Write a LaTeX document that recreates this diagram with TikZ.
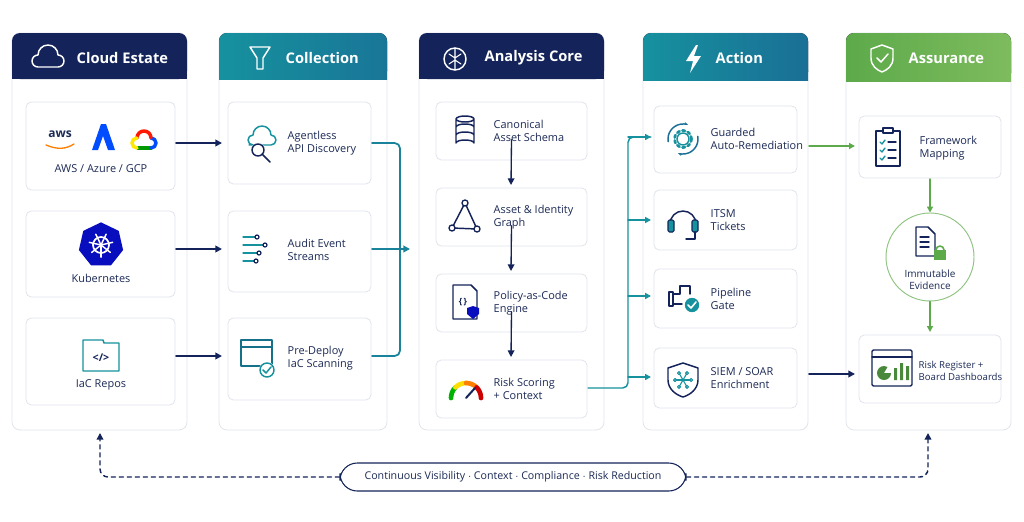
\documentclass[tikz,border=0pt]{standalone}
\usepackage{fontspec}
\setmainfont{Open Sans}
\usetikzlibrary{arrows.meta, positioning, calc, shapes.geometric}
\definecolor{navy}{HTML}{14245A}
\definecolor{teal}{HTML}{16919E}
\definecolor{tealb}{HTML}{1A6F96}
\definecolor{grn}{HTML}{5DAA4A}
\definecolor{grnl}{HTML}{7DBB5E}
\definecolor{edge}{HTML}{E1E5EC}
\definecolor{txt}{HTML}{1C2A55}
\begin{document}
\begin{tikzpicture}[x=0.75pt, y=-0.75pt, line cap=round, line join=round,
    panel/.style={draw=edge, fill=white, rounded corners=6pt, line width=0.6pt},
    card/.style={draw=edge, fill=white, rounded corners=4pt, line width=0.6pt},
    head/.style={font=\bfseries\fontsize{11}{12}\selectfont, text=white, anchor=west},
    lbl/.style={font=\fontsize{8.2}{10}\selectfont, text=txt, align=left, anchor=west},
    clbl/.style={font=\fontsize{8.2}{10}\selectfont, text=txt, align=center},
    arr/.style={-{Triangle[length=5pt,width=5pt]}, line width=1.3pt, navy},
    tarr/.style={-{Triangle[length=4.5pt,width=4.5pt]}, line width=1.1pt, teal},
    garr/.style={-{Triangle[length=4.5pt,width=4.5pt]}, line width=1.1pt, grn},
    ico/.style={line width=1.1pt}]

	% canvas
	\useasboundingbox[fill=white] (0,0) rectangle (1024,521);

	% panels
	\draw[panel] (12,33) rectangle (187,430);
	\draw[panel] (219,33) rectangle (387,430);
	\draw[panel] (419,33) rectangle (604,430);
	\draw[panel] (643,33) rectangle (808,430);
	\draw[panel] (846,33) rectangle (1011,430);

	% panel headers
	\fill[navy, rounded corners=6pt] (12,79) |- (187,33) -- (187,79) -- cycle;
	\fill[left color=teal, right color=tealb!80!teal, rounded corners=6pt] (219,79) |- (387,33) -- (387,79) -- cycle;
	\fill[navy, rounded corners=6pt] (419,79) |- (604,33) -- (604,79) -- cycle;
	\fill[left color=teal, right color=tealb, rounded corners=6pt] (643,80) |- (808,33) -- (808,80) -- cycle;
	\fill[left color=grn, right color=grnl, rounded corners=6pt] (846,81) |- (1011,33) -- (1011,81) -- cycle;
	\fill[navy] (12,70) rectangle (187,79);
	\fill[left color=teal, right color=tealb!80!teal] (219,70) rectangle (387,79);
	\fill[navy] (419,70) rectangle (604,79);
	\fill[left color=teal, right color=tealb] (643,70) rectangle (808,80);
	\fill[left color=grn, right color=grnl] (846,70) rectangle (1011,81);

	\node[head] at (72,58) {Cloud Estate};
	\node[head] at (281,58) {Collection};
	\node[head] at (480,58) {Analysis Core};
	\node[head] at (711,58) {Action};
	\node[head] at (904,58) {Assurance};

	% header icons
	\draw[white, ico] (37,67) -- (58,67) arc (90:-90:6) arc (0:-180:10) arc (-90:-270:6) -- cycle;
	\draw[white, ico] (250,47) -- (270,47) -- (263,58) -- (263,69) -- (257,69) -- (257,58) -- cycle;
	\draw[white, ico] (455,59) circle (11); \draw[white, line width=0.8pt] (455,48) -- (455,70) (449,54) -- (455,58) -- (461,54) (449,64) -- (455,60) -- (461,64);
	\fill[white] (696,45) -- (686,61) -- (693,61) -- (690,73) -- (701,56) -- (694,56) -- (698,45) -- cycle;
	\draw[white, ico] (882,45) -- (893,49) -- (893,58) .. controls (893,66) and (887,70) .. (882,72) .. controls (877,70) and (871,66) .. (871,58) -- (871,49) -- cycle;
	\draw[white, ico] (877,58) -- (881,62) -- (888,54);

	% cloud estate cards
	\draw[card] (26,102) rectangle (175,190) node[midway] (aws) {};
	\draw[card] (26,211) rectangle (175,297) node[midway] (k8s) {};
	\draw[card] (26,318) rectangle (175,405) node[midway] (iac) {};
	\node[font=\bfseries\fontsize{9}{9}\selectfont, text=txt] at (60,134) {aws};
	\draw[orange, line width=1pt] (46,145) .. controls (58,150) and (66,149) .. (74,144);
	\fill[blue!70!cyan] (92,150) -- (101,124) -- (106,124) -- (115,150) -- (108,150) -- (103,136) -- (98,150) -- cycle;
	\draw[green!60!black, line width=2.6pt] (138,148) -- (151,148);
	\draw[blue!70!cyan, line width=2.6pt] (151,148) arc (90:-90:5);
	\draw[red!80!orange, line width=2.6pt] (151,138) arc (0:-180:7);
	\draw[yellow!90!orange, line width=2.6pt] (137,138) arc (-90:-270:5);
	\node[clbl] at (101,169) {AWS / Azure / GCP};
	\node[regular polygon, regular polygon sides=7, fill=blue!60!navy, minimum size=34pt, inner sep=0] at (101,245) {};
	\draw[white, line width=1.3pt] (101,245) circle (8);
	\foreach \a in {0,51.4,...,360} \draw[white, line width=1.1pt] (101,245) -- ++(\a+90:12);
	\node[clbl] at (101,278) {Kubernetes};
	\draw[teal, ico] (83,355) |- (103,340) -- (104,343) -- (119,343) -- (119,371) -- (83,371) -- cycle;
	\node[font=\bfseries\fontsize{8}{8}\selectfont, text=navy] at (101,358) {</>};
	\node[clbl] at (101,385) {IaC Repos};

	% collection cards
	\draw[card] (228,102) rectangle (371,184) node[midway] (api) {};
	\draw[card] (228,211) rectangle (371,292) node[midway] (aud) {};
	\draw[card] (228,318) rectangle (371,400) node[midway] (pre) {};
	\draw[teal, ico] (249,145) -- (271,145) arc (90:-90:5) arc (0:-180:9) arc (-90:-270:5);
	\fill[white] (258,150) circle (7);
	\draw[navy, ico] (258,150) circle (6) (262,154) -- (270,162);
	\node[lbl] (tapi) at (283,143) {Agentless\\API Discovery};
	\foreach \y/\l in {237/12,245/20,253/14,261/11} {\draw[teal, line width=1pt] (243,\y) -- ++(\l,0); \draw[navy, line width=0.9pt] (243+\l+2,\y) circle (2);}
	\node[lbl] (taud) at (283,250) {Audit Event\\Streams};
	\draw[teal!70!navy, ico] (241,340) rectangle (272,366); \draw[teal!70!navy, ico] (241,347) -- (272,347);
	\fill[white] (267,370) circle (8); \draw[teal, ico] (267,370) circle (7) (263,370) -- (266,373) -- (271,367);
	\node[lbl] (tpre) at (283,358) {Pre-Deploy\\IaC Scanning};

	% analysis cards
	\draw[card] (436,102) rectangle (587,160) node[midway] (sch) {};
	\draw[card] (436,188) rectangle (587,246) node[midway] (gra) {};
	\draw[card] (436,274) rectangle (587,332) node[midway] (pol) {};
	\draw[card] (436,360) rectangle (587,418) node[midway] (rsk) {};
	\draw[navy, ico] (456,119) -- (456,143) arc (180:360:9 and 3) -- (474,119) (465,119) ellipse (9 and 3) (456,127) arc (180:360:9 and 3) (456,135) arc (180:360:9 and 3);
	\node[lbl] at (489,131) {Canonical\\Asset Schema};
	\draw[navy, ico] (465,203) -- (452,228) -- (477,229) -- cycle; \foreach \p in {(465,203),(452,228),(477,229)} \fill[white, draw=navy, line width=1pt] \p circle (3);
	\node[lbl] at (489,217) {Asset \& Identity\\Graph};
	\draw[navy, ico] (453,285) -- (471,285) -- (477,291) -- (477,319) -- (453,319) -- cycle;
	\node[font=\bfseries\fontsize{6.5}{7}\selectfont, text=navy] at (463,302) {\{\,\}};
	\fill[blue!60!navy] (473,306) -- (479,308) -- (479,314) -- (473,319) -- (467,314) -- (467,308) -- cycle;
	\node[lbl] at (489,303) {Policy-as-Code\\Engine};
	\foreach \c [count=\i] in {green!70!black,yellow!80!orange,orange,red!80!black} \draw[\c, line width=3.5pt] (466,398) ++ (135+45*\i:15) arc (135+45*\i:180+45*\i:15);
	\draw[navy, line width=1.5pt] (466,398) -- (475,388);
	\node[lbl] at (489,389) {Risk Scoring\\+ Context};

	% action cards
	\draw[card] (654,106) rectangle (797,173) node[midway] (rem) {};
	\draw[card] (654,190) rectangle (797,250) node[midway] (itsm) {};
	\draw[card] (654,269) rectangle (797,328) node[midway] (pip) {};
	\draw[card] (654,348) rectangle (797,408) node[midway] (siem) {};
	\draw[teal, ico] (683,139) circle (6); \draw[teal, line width=2pt, dash pattern=on 2pt off 2.2pt] (683,139) circle (8.5);
	\draw[tealb, ico, -{Stealth[length=3pt]}] (683,139) ++(170:15) arc (170:290:15);
	\draw[tealb, ico, -{Stealth[length=3pt]}] (683,139) ++(-10:15) arc (-10:110:15);
	\node[lbl] at (706,139) {Guarded\\Auto-Remediation};
	\draw[navy, ico] (670,224) arc (180:360:13); \fill[teal, draw=navy, line width=0.8pt, rounded corners=1pt] (668,220) rectangle (674,232) (692,220) rectangle (698,232);
	\draw[navy, ico] (695,232) |- (686,239);
	\node[lbl] at (706,220) {ITSM\\Tickets};
	\draw[navy, ico] (669,292) rectangle (673,306) (673,294) -- (680,294) -- (680,286) -- (690,286) -- (690,294) (673,304) -- (682,304);
	\fill[teal, draw=white, line width=1pt] (692,305) circle (8); \draw[white, line width=1.2pt] (688,305) -- (691,308) -- (696,302);
	\node[lbl] at (706,299) {Pipeline\\Gate};
	\draw[navy, ico] (683,363) -- (698,368) -- (698,380) .. controls (698,389) and (690,395) .. (683,397) .. controls (676,395) and (668,389) .. (668,380) -- (668,368) -- cycle;
	\foreach \a in {0,60,...,300} {\draw[teal, line width=0.8pt] (683,380) -- ++(\a:7); \draw[teal, line width=0.8pt] (683,380) ++(\a:8) circle (1.5);}
	\node[lbl] at (706,378) {SIEM / SOAR\\Enrichment};

	% assurance cards
	\draw[card] (859,116) rectangle (1001,178) node[midway] (fmk) {};
	\node[circle, draw=grn!70, line width=0.7pt, minimum size=66pt, inner sep=0] (evi) at (930,257) {};
	\draw[card] (859,335) rectangle (1001,403) node[midway] (reg) {};
	\draw[navy, ico] (876,131) rectangle (900,166); \draw[navy, ico, fill=white] (883,128) rectangle (893,133);
	\foreach \y in {142,150,158} {\draw[teal, line width=1pt] (880,\y) -- (882,\y+2) -- (885,\y-2); \draw[navy, line width=1pt] (888,\y) -- (896,\y);}
	\node[lbl] at (915,148) {Framework\\Mapping};
	\draw[navy, ico] (916,227) -- (928,227) -- (935,234) -- (935,256) -- (916,256) -- cycle;
	\foreach \y in {237,242,247} \draw[navy, line width=1pt] (920,\y) -- (929,\y);
	\fill[grn] (934,250) rectangle (946,260); \draw[grn, line width=1.2pt] (936,250) arc (180:360:4);
	\node[font=\fontsize{7.5}{9}\selectfont, text=txt, align=center] at (930,280) {Immutable\\Evidence};
	\draw[navy, ico, rounded corners=1pt] (872,350) rectangle (912,386); \draw[navy, ico] (872,357) -- (912,357);
	\fill[grn!80!black] (884,373) -- ++(0:7) arc (0:300:7) -- cycle;
	\fill[grn!80!black] (894,368) rectangle (897,380) (900,363) rectangle (903,380) (906,366) rectangle (909,380);
	\node[font=\fontsize{7.2}{9}\selectfont, text=txt, align=left, anchor=west] at (914,371) {Risk Register +\\Board Dashboards};

	% arrows estate -> collection
	\draw[arr] (176,143) -- (222,143);
	\draw[arr] (176,249) -- (222,249);
	\draw[arr] (176,356) -- (222,356);

	% collection bus -> analysis
	\draw[teal!60!tealb, line width=1.3pt, rounded corners=4pt] (372,143) -- (400,143) -- (400,356) -- (372,356);
	\draw[teal!60!tealb, line width=1.3pt, -{Triangle[length=5pt,width=5pt]}] (372,249) -- (410,249);

	% analysis chain
	\draw[arr, line width=1pt] (sch.south) ++(0,4) -- (511,185);
	\draw[arr, line width=1pt] (gra.south) ++(0,4) -- (511,271);
	\draw[arr, line width=1pt] (pol.south) ++(0,4) -- (511,357);

	% analysis -> action fan-out
	\draw[teal, line width=1.1pt, rounded corners=4pt] (588,388) -- (628,388) -- (628,137) -- (651,137);
	\draw[tarr] (628,137) -- (651,137);
	\draw[tarr] (628,220) -- (651,220);
	\draw[tarr] (628,296) -- (651,296);
	\draw[tarr] (628,377) -- (651,377);

	% action -> assurance
	\draw[garr] (809,146) -- (855,146);
	\draw[arr] (809,374) -- (855,374);
	\draw[garr] (930,179) -- (evi.north);
	\draw[garr] (evi.south) -- (930,332);

	% feedback loop
	\node[draw=navy, line width=0.8pt, fill=white, rounded corners=13pt, minimum width=346*0.75pt, minimum height=28*0.75pt,
		font=\fontsize{8}{9}\selectfont, text=txt] (loop) at (513,477) {Continuous Visibility $\cdot$ Context $\cdot$ Compliance $\cdot$ Risk Reduction};
	\draw[navy, line width=1.1pt, dashed, -{Triangle[length=5pt,width=5pt]}, rounded corners=6pt] (loop.west) -| (100,433);
	\draw[navy, line width=1.1pt, dashed, -{Triangle[length=5pt,width=5pt]}, rounded corners=6pt] (loop.east) -| (928,433);

\end{tikzpicture}
\end{document}
